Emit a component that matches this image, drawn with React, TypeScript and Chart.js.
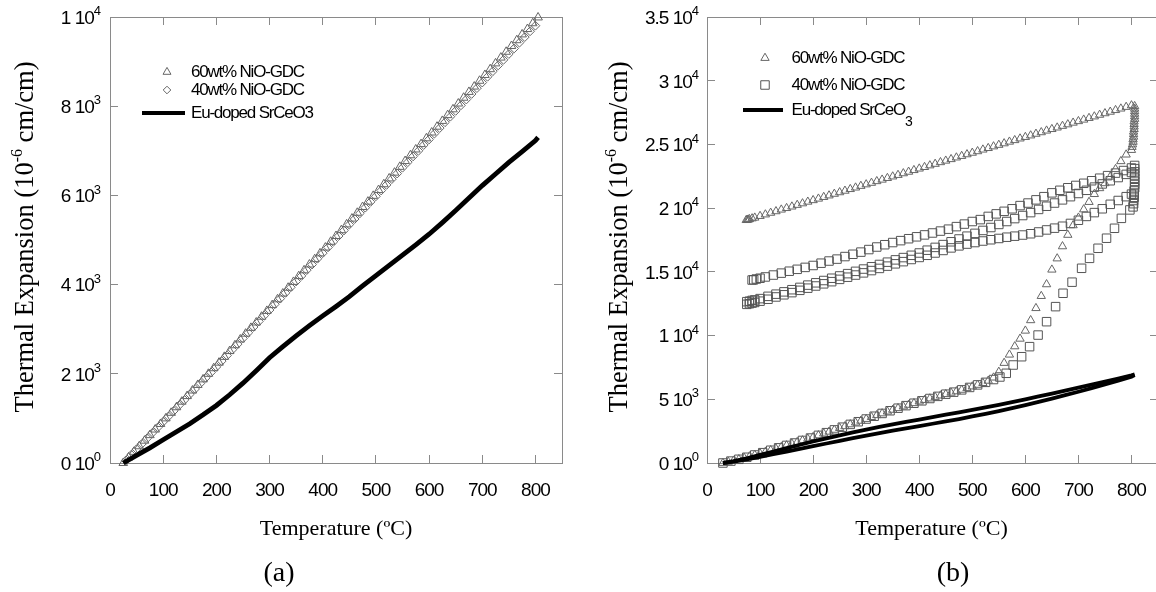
import React, { useEffect, useRef } from 'react';
import { Chart, registerables } from 'chart.js';

Chart.register(...registerables);

// ---------------- Panel (a) data ----------------
const aT60 = [25,35,45,55,65,75,85,95,105,115,125,135,145,155,165,175,185,195,205,215,225,235,245,255,265,275,285,295,305,315,325,335,345,355,365,375,385,395,405,415,425,435,445,455,465,475,485,495,505,515,525,535,545,555,565,575,585,595,605,615,625,635,645,655,665,675,685,695,705,715,725,735,745,755,765,775,785,795,805];
const aV60 = [0,125,250,375,500,625,750,875,1000,1125,1250,1375,1500,1625,1750,1875,2000,2125,2250,2380,2510,2640,2770,2900,3030,3150,3280,3410,3540,3670,3800,3930,4060,4190,4320,4450,4570,4700,4830,4960,5090,5220,5350,5480,5610,5740,5860,5990,6120,6250,6380,6510,6640,6770,6900,7030,7150,7280,7410,7540,7670,7800,7930,8060,8190,8320,8440,8570,8700,8830,8960,9090,9220,9350,9480,9610,9730,9860,9990];
const aT40 = [30,40,50,60,70,80,90,100,110,120,130,140,150,160,170,180,190,200,210,220,230,240,250,260,270,280,290,300,310,320,330,340,350,360,370,380,390,400,410,420,430,440,450,460,470,480,490,500,510,520,530,540,550,560,570,580,590,600,610,620,630,640,650,660,670,680,690,700,710,720,730,740,750,760,770,780,790,800];
const aV40 = [60,185,310,430,555,680,800,925,1045,1170,1295,1415,1540,1660,1785,1910,2030,2155,2285,2410,2540,2665,2795,2920,3050,3175,3305,3430,3560,3685,3815,3940,4070,4195,4325,4450,4580,4705,4835,4960,5090,5215,5345,5470,5600,5725,5855,5980,6110,6235,6365,6490,6620,6745,6875,7000,7130,7255,7385,7510,7640,7765,7895,8020,8150,8275,8405,8530,8660,8785,8915,9040,9170,9295,9425,9550,9680,9805];
const aTEu = [25,50,75,100,125,150,175,200,225,250,275,300,325,350,375,400,425,450,475,500,525,550,575,600,625,650,675,700,725,750,775,800,805];
const aVEu = [0,170,340,520,700,880,1080,1290,1530,1790,2070,2360,2610,2850,3080,3300,3510,3730,3970,4200,4430,4660,4890,5130,5390,5660,5940,6220,6480,6740,6980,7230,7300];
const aYTickMain = ['0 10', '2 10', '4 10', '6 10', '8 10', '1 10'];
const aYTickExp = ['0', '3', '3', '3', '3', '4'];
const aLegendLabels = ['60wt% NiO-GDC', '40wt% NiO-GDC', 'Eu-doped SrCeO3'];

// ---------------- Panel (b) data ----------------
const bT60Heat = [30,40,50,60,70,80,90,100,110,120,130,140,150,160,170,180,190,200,210,220,230,240,250,260,270,280,290,300,310,320,330,340,350,360,370,380,390,400,410,420,430,440,450,460,470,480,490,500,510,520,530,540,550,560,570,580,590,600,610,620,630,640,650,660,670,680,690,700,710,720,730,740,750,760,770,780,790,800];
const bV60Heat = [0,90,180,290,400,510,630,750,870,1000,1120,1250,1380,1510,1640,1770,1900,2030,2170,2310,2450,2600,2740,2880,3030,3170,3310,3450,3600,3750,3890,4030,4170,4300,4430,4560,4690,4820,4940,5060,5180,5290,5400,5510,5620,5740,5870,6000,6130,6270,6450,6700,7150,7850,8500,9150,9750,10380,11200,12150,13100,14020,15170,16050,17000,17900,18650,19250,19900,20480,21100,21560,21950,22470,23060,23680,24200,24560];
const bT60Dwell = [801,802,803,803,804,804,804,805,805,805,805,806,806,806,806,806,806];
const bV60Dwell = [24800,25000,25200,25400,25600,25800,26000,26200,26400,26600,26800,27000,27200,27400,27600,27800,28000];
const bT60Cool = [74,76,78,80,85,90,100,110,120,130,140,150,160,170,180,190,200,210,220,230,240,250,260,270,280,290,300,310,320,330,340,350,360,370,380,390,400,410,420,430,440,450,460,470,480,490,500,510,520,530,540,550,560,570,580,590,600,610,620,630,640,650,660,670,680,690,700,710,720,730,740,750,760,770,780,790,800];
const bV60Cool = [19060,19080,19100,19130,19190,19250,19380,19500,19630,19750,19880,20000,20120,20250,20370,20500,20620,20740,20870,20990,21120,21240,21360,21490,21610,21740,21860,21980,22110,22230,22360,22480,22600,22730,22850,22980,23100,23220,23350,23470,23600,23720,23840,23970,24090,24220,24340,24460,24590,24710,24840,24960,25080,25210,25330,25460,25580,25700,25830,25950,26080,26200,26320,26450,26570,26700,26820,26940,27070,27190,27320,27440,27560,27690,27810,27940,28060];

const bT40Heat = [30,45,60,75,90,105,120,135,150,165,180,195,210,225,240,255,270,285,300,315,330,345,360,375,390,405,420,435,450,465,480,495,510,525,540,552,564,577,593,608,624,640,657,671,688,706,721,737,753,768,781,797];
const bV40Heat = [0,150,290,450,630,810,1000,1190,1380,1570,1770,1960,2170,2380,2600,2810,3030,3240,3450,3670,3890,4100,4300,4500,4690,4880,5060,5230,5400,5560,5740,5930,6130,6330,6550,6750,7040,7690,8340,9130,10040,11090,12270,13320,14190,15280,16060,16850,17640,18420,19200,19860];
const bT40Dwell = [803,804,804,805,805,805,806,806,806,806,806,806,806,806];
const bV40Dwell = [20100,20350,20600,20850,21100,21350,21600,21850,22100,22350,22600,22850,23100,23350];
const bT40CoolA = [85,88,93,100,110,125,140,155,170,185,200,215,230,245,260,275,290,305,320,335,350,365,380,395,410,425,440,455,470,485,500,515,530,545,560,575,590,605,620,635,650,665,680,695,710,725,740,755,770,785,800];
const bV40CoolA = [14360,14380,14440,14500,14600,14750,14900,15050,15200,15350,15500,15680,15850,16000,16200,16380,16550,16750,16950,17130,17300,17450,17600,17750,17900,18050,18200,18350,18550,18750,18950,19100,19350,19550,19750,19950,20200,20400,20650,20900,21200,21400,21600,21780,21950,22150,22350,22550,22750,22950,23150];
const bT40CoolBC = [75,80,85,90,100,115,130,145,160,175,190,205,220,235,250,265,280,295,310,325,340,355,370,385,400,415,430,445,460,475,490,505,520,535,550,565,580,595,610,625,640,655,670,685,700,715,730,745,760,775,790,800];
const bV40CoolB = [12660,12700,12760,12800,12900,13080,13250,13430,13600,13780,13960,14140,14320,14500,14680,14860,15040,15220,15400,15580,15760,15940,16120,16300,16480,16700,16920,17140,17360,17580,17800,18020,18250,18480,18720,18950,19180,19420,19650,19900,20150,20400,20650,20900,21150,21400,21650,21900,22150,22400,22650,22800];
const bV40CoolC = [12450,12500,12550,12600,12700,12850,13030,13200,13370,13550,13720,13890,14060,14230,14410,14580,14750,14920,15100,15270,15450,15630,15800,15970,16130,16300,16480,16680,16880,17040,17180,17300,17420,17520,17620,17720,17800,17890,17990,18130,18290,18430,18580,18800,19050,19350,19650,19950,20300,20600,20900,21100];

const bTEu = [30,50,75,100,125,150,175,200,225,250,275,300,325,350,375,400,425,450,475,500,525,550,575,600,625,650,675,700,725,750,775,800,806];
const bVEuUpper = [0,150,370,650,900,1170,1430,1690,1940,2170,2400,2620,2830,3030,3220,3410,3600,3790,3980,4170,4370,4570,4780,5000,5220,5450,5680,5910,6150,6390,6630,6880,6950];
const bVEuLower = [0,110,290,480,690,900,1110,1320,1530,1740,1950,2150,2350,2540,2720,2900,3080,3260,3450,3650,3860,4070,4300,4540,4790,5050,5320,5590,5870,6160,6460,6780,6900];
const bYTickMain = ['0 10', '5 10', '1 10', '1.5 10', '2 10', '2.5 10', '3 10', '3.5 10'];
const bYTickExp = ['0', '3', '4', '4', '4', '4', '4', '4'];
const bLegendLabels = ['60wt% NiO-GDC', '40wt% NiO-GDC', 'Eu-doped SrCeO'];
const bLegendSub = '3';

// ---------------- styling ----------------
const SANS = "'Liberation Sans', Arial, Helvetica, sans-serif";
const SERIF = "'Liberation Serif', 'Times New Roman', Times, serif";
const AXIS = '#8a8a8a';
const TRI = '#666666';
const SQ = '#555555';

const pts = (t: number[], v: number[]) => t.map((x, i) => ({ x, y: v[i] }));

function markerSet(label: string, data: any[], style: string, radius: number, color: string) {
  return {
    label, data, showLine: false, pointStyle: style, pointRadius: radius,
    pointBorderColor: color, pointBackgroundColor: 'rgba(0,0,0,0)', pointBorderWidth: 1,
    clip: false, order: 2,
  };
}
function lineSet(label: string, data: any[], width: number) {
  return {
    label, data, showLine: true, pointRadius: 0, borderColor: '#000', borderWidth: width,
    backgroundColor: '#000', tension: 0, clip: false, order: 1,
  };
}

function drawShape(ctx: CanvasRenderingContext2D, style: string, x: number, y: number, r: number, color: string) {
  ctx.save();
  ctx.strokeStyle = color;
  ctx.lineWidth = 1;
  ctx.beginPath();
  if (style === 'triangle') {
    ctx.moveTo(x, y - r);
    ctx.lineTo(x + r * 0.866, y + r * 0.5);
    ctx.lineTo(x - r * 0.866, y + r * 0.5);
    ctx.closePath();
  } else if (style === 'rectRot') {
    ctx.moveTo(x, y - r);
    ctx.lineTo(x + r, y);
    ctx.lineTo(x, y + r);
    ctx.lineTo(x - r, y);
    ctx.closePath();
  } else {
    const h = r * Math.SQRT1_2;
    ctx.rect(x - h, y - h, 2 * h, 2 * h);
  }
  ctx.stroke();
  ctx.restore();
}

type Part = { t: string; s: number; dy: number };
function drawParts(ctx: CanvasRenderingContext2D, parts: Part[], x: number, y: number, center: boolean, family: string) {
  const widths = parts.map((p) => { ctx.font = `${p.s}px ${family}`; return ctx.measureText(p.t).width; });
  const total = widths.reduce((a, b) => a + b, 0);
  let cx = center ? x - total / 2 : x;
  parts.forEach((p, i) => { ctx.font = `${p.s}px ${family}`; ctx.fillText(p.t, cx, y + p.dy); cx += widths[i]; });
}

type Panel = {
  datasets: any[];
  yMax: number; yStep: number; yMain: string[]; yExp: string[]; yGap: number;
  yWidth: number; padRight: number;
  yTitleX: number; xTitleX: number; tag: string; tagX: number;
  legend: { style: string; label: string; sub?: string; color: string; r: number }[];
  legX: number; legRows: number[]; legTextX: number; lineX0: number; lineX1: number;
};

function makeChart(canvas: HTMLCanvasElement, p: Panel) {
  const gridOpts = { drawOnChartArea: false, tickLength: -8, color: AXIS, lineWidth: 1 };
  const borderOpts = { color: AXIS, width: 1 };
  const tickFont = { family: SANS, size: 19 };
  const noPad = (s: any) => { s.paddingTop = 0; s.paddingBottom = 0; s.paddingLeft = 0; s.paddingRight = 0; };
  const decor = {
    id: 'decor',
    beforeDraw(chart: any) { (chart.ctx as any).letterSpacing = '-1px'; },
    afterDraw(chart: any) {
      const ctx: CanvasRenderingContext2D = chart.ctx;
      const a = chart.chartArea;
      ctx.save();
      ctx.fillStyle = '#000';
      ctx.textAlign = 'left';
      ctx.textBaseline = 'alphabetic';
      // y tick labels with superscript exponent, placed by the y scale
      (ctx as any).letterSpacing = '-1px';
      const ys = chart.scales.y;
      ys.ticks.forEach((t: any) => {
        const idx = Math.round(t.value / p.yStep);
        const main = p.yMain[idx];
        const exp = p.yExp[idx];
        if (main === undefined) return;
        const py = ys.getPixelForValue(t.value);
        ctx.font = `19px ${SANS}`;
        const wm = ctx.measureText(main).width;
        ctx.font = `13px ${SANS}`;
        const we = ctx.measureText(exp).width;
        const right = a.left - p.yGap;
        ctx.font = `19px ${SANS}`;
        ctx.fillText(main, right - we - wm, py + 6.8);
        ctx.font = `13px ${SANS}`;
        ctx.fillText(exp, right - we, py - 1.8);
      });
      (ctx as any).letterSpacing = '0px';
      // y axis title
      ctx.save();
      ctx.translate(p.yTitleX, (a.top + a.bottom) / 2 - 3);
      ctx.rotate(-Math.PI / 2);
      drawParts(ctx, [
        { t: 'Thermal Expansion (10', s: 26.5, dy: 0 },
        { t: '-6', s: 16, dy: -11 },
        { t: ' cm/cm)', s: 26.5, dy: 0 },
      ], 0, 0, true, SERIF);
      ctx.restore();
      // x axis title
      drawParts(ctx, [{ t: 'Temperature (\u00BAC)', s: 22, dy: 0 }], p.xTitleX, 535, true, SERIF);
      // panel tag
      drawParts(ctx, [{ t: p.tag, s: 28, dy: 0 }], p.tagX, 581, true, SERIF);
      // legend
      (ctx as any).letterSpacing = '-1.2px';
      ctx.textBaseline = 'middle';
      p.legend.forEach((e, i) => {
        const y = p.legRows[i];
        if (e.style === 'line') {
          ctx.save();
          ctx.strokeStyle = '#000';
          ctx.lineWidth = 4;
          ctx.beginPath();
          ctx.moveTo(p.lineX0, y);
          ctx.lineTo(p.lineX1, y);
          ctx.stroke();
          ctx.restore();
        } else {
          drawShape(ctx, e.style, p.legX, y, e.r, e.color);
        }
        const parts: Part[] = [{ t: e.label, s: 17, dy: 0 }];
        if (e.sub) parts.push({ t: e.sub, s: 14, dy: 12 });
        drawParts(ctx, parts, p.legTextX, y, false, SANS);
      });
      ctx.restore();
    },
  };

  return new Chart(canvas, {
    type: 'scatter',
    data: { datasets: p.datasets },
    plugins: [decor],
    options: {
      responsive: false,
      animation: false,
      devicePixelRatio: 1,
      events: [],
      layout: { padding: { top: 17, right: p.padRight, left: 0, bottom: 0 } },
      plugins: { legend: { display: false }, tooltip: { enabled: false }, title: { display: false } },
      scales: {
        x: {
          type: 'linear', position: 'bottom', min: 0, max: 850,
          ticks: { stepSize: 100, includeBounds: false, padding: 24, color: '#000', font: tickFont, maxRotation: 0, autoSkip: false },
          grid: gridOpts, border: borderOpts,
          afterFit: (s: any) => { s.height = 129; noPad(s); },
        },
        xTop: {
          type: 'linear', position: 'top', min: 0, max: 850,
          ticks: { stepSize: 100, includeBounds: false, display: false },
          grid: gridOpts, border: borderOpts,
          afterFit: (s: any) => { s.height = 0; noPad(s); },
        },
        y: {
          type: 'linear', position: 'left', min: 0, max: p.yMax,
          ticks: { stepSize: p.yStep, includeBounds: false, display: false },
          grid: gridOpts, border: borderOpts,
          afterFit: (s: any) => { s.width = p.yWidth; noPad(s); },
        },
        yRight: {
          type: 'linear', position: 'right', min: 0, max: p.yMax,
          ticks: { stepSize: p.yStep, includeBounds: false, display: false },
          grid: gridOpts, border: borderOpts,
          afterFit: (s: any) => { s.width = 0; noPad(s); },
        },
      },
    } as any,
  });
}

const panelA: Panel = {
  datasets: [
    lineSet(aLegendLabels[2], pts(aTEu, aVEu), 4.8),
    markerSet(aLegendLabels[0], pts(aT60, aV60), 'triangle', 5.0, TRI),
    markerSet(aLegendLabels[1], pts(aT40, aV40), 'rectRot', 4.4, TRI),
  ],
  yMax: 10000, yStep: 2000, yMain: aYTickMain, yExp: aYTickExp, yGap: 10,
  yWidth: 110, padRight: 16,
  yTitleX: 33, xTitleX: 336, tag: '(a)', tagX: 279,
  legend: [
    { style: 'triangle', label: aLegendLabels[0], color: TRI, r: 4.6 },
    { style: 'rectRot', label: aLegendLabels[1], color: TRI, r: 3.8 },
    { style: 'line', label: aLegendLabels[2], color: '#000', r: 0 },
  ],
  legX: 167, legRows: [72, 90, 113], legTextX: 191, lineX0: 142, lineX1: 185,
};

const panelB: Panel = {
  datasets: [
    lineSet(bLegendLabels[2], pts(bTEu, bVEuUpper), 3.8),
    lineSet(bLegendLabels[2], pts(bTEu, bVEuLower), 3.8),
    markerSet(bLegendLabels[0], pts(bT60Heat, bV60Heat), 'triangle', 4.8, TRI),
    markerSet(bLegendLabels[0], pts(bT60Dwell, bV60Dwell), 'triangle', 4.8, TRI),
    markerSet(bLegendLabels[0], pts(bT60Cool, bV60Cool), 'triangle', 4.8, TRI),
    markerSet(bLegendLabels[1], pts(bT40Heat, bV40Heat), 'rect', 6.0, SQ),
    markerSet(bLegendLabels[1], pts(bT40Dwell, bV40Dwell), 'rect', 6.0, SQ),
    markerSet(bLegendLabels[1], pts(bT40CoolA, bV40CoolA), 'rect', 6.0, SQ),
    markerSet(bLegendLabels[1], pts(bT40CoolBC, bV40CoolB), 'rect', 6.0, SQ),
    markerSet(bLegendLabels[1], pts(bT40CoolBC, bV40CoolC), 'rect', 6.0, SQ),
  ],
  yMax: 35000, yStep: 5000, yMain: bYTickMain, yExp: bYTickExp, yGap: 9,
  yWidth: 129, padRight: 20,
  yTitleX: 49, xTitleX: 353.5, tag: '(b)', tagX: 375,
  legend: [
    { style: 'triangle', label: bLegendLabels[0], color: TRI, r: 4.8 },
    { style: 'rect', label: bLegendLabels[1], color: SQ, r: 6.0 },
    { style: 'line', label: bLegendLabels[2], sub: bLegendSub, color: '#000', r: 0 },
  ],
  legX: 187, legRows: [58, 85, 110], legTextX: 213.5, lineX0: 165, lineX1: 205,
};

export default function App() {
  const refA = useRef<HTMLCanvasElement>(null);
  const refB = useRef<HTMLCanvasElement>(null);
  useEffect(() => {
    const ca = makeChart(refA.current as HTMLCanvasElement, panelA);
    const cb = makeChart(refB.current as HTMLCanvasElement, panelB);
    return () => { ca.destroy(); cb.destroy(); };
  }, []);
  return (
    <div style={{ position: 'absolute', left: 0, top: 0, width: 1156, height: 592, overflow: 'hidden', background: '#fff' }}>
      <canvas ref={refA} width={578} height={592} style={{ position: 'absolute', left: 0, top: 0, width: 578, height: 592 }} />
      <canvas ref={refB} width={600} height={592} style={{ position: 'absolute', left: 578, top: 0, width: 600, height: 592 }} />
    </div>
  );
}
